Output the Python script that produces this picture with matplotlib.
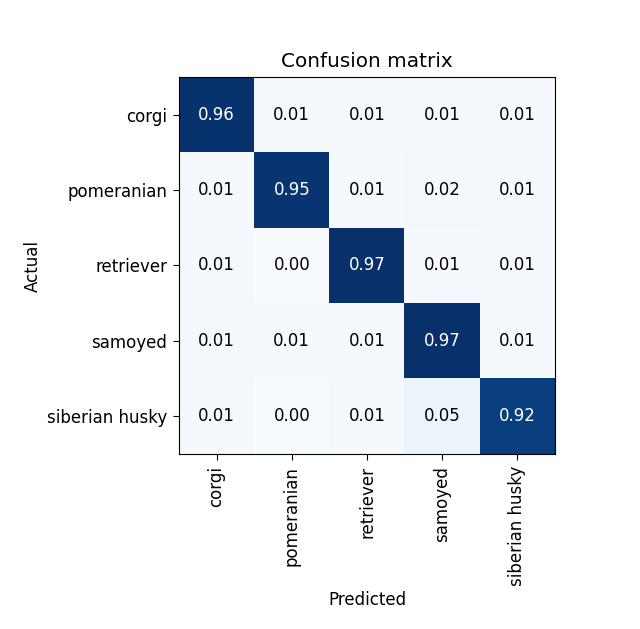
import matplotlib
matplotlib.use("Agg")
import matplotlib.pyplot as plt
import numpy as np

classes = ['corgi', 'pomeranian', 'retriever', 'samoyed', 'siberian husky']
cm = np.array([
    [0.96, 0.01, 0.01, 0.01, 0.01],
    [0.01, 0.95, 0.01, 0.02, 0.01],
    [0.01, 0.00, 0.97, 0.01, 0.01],
    [0.01, 0.01, 0.01, 0.97, 0.01],
    [0.01, 0.00, 0.01, 0.05, 0.92],
])

plt.rcParams['font.size'] = 12
plt.rcParams['xtick.major.size'] = 4.2
plt.rcParams['ytick.major.size'] = 4.2
plt.rcParams['xtick.major.pad'] = 4.2
plt.rcParams['ytick.major.pad'] = 4.2

fig = plt.figure(figsize=(6.4, 6.29), dpi=100)
ax = fig.add_axes([179/640, 1 - 454/629, 376/640, 377/629])
ax.imshow(cm, interpolation='nearest', cmap='Blues', aspect='auto')
ax.set_title('Confusion matrix', fontsize=14.4, pad=7)
ticks = np.arange(len(classes))
ax.set_xticks(ticks)
ax.set_xticklabels(classes, rotation=90)
ax.set_yticks(ticks)
ax.set_yticklabels(classes)

thresh = cm.max() / 2.
for i in range(cm.shape[0]):
    for j in range(cm.shape[1]):
        ax.text(j, i, f'{cm[i, j]:.2f}', ha='center', va='center',
                color='white' if cm[i, j] > thresh else 'black')

ax.set_ylabel('Actual')
ax.set_xlabel('Predicted')
ax.grid(False)

fig.savefig('out.png', dpi=100)
